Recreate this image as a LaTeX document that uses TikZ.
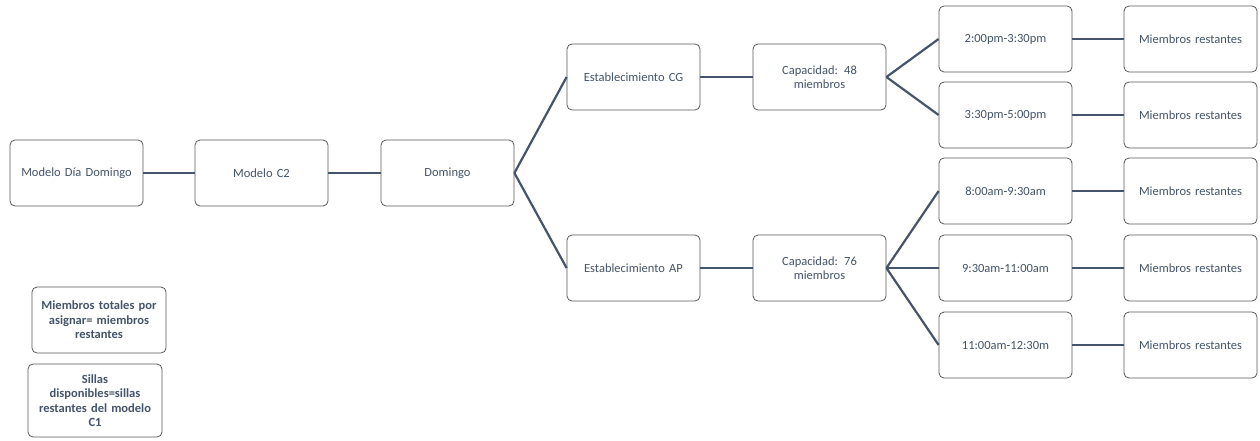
\documentclass[tikz,border=0pt]{standalone}
\usepackage{fontspec}
\setmainfont{Carlito}
\definecolor{slate}{HTML}{44546A}
\definecolor{edge}{HTML}{595959}
\begin{document}
\begin{tikzpicture}[x=1pt,y=-1pt,
  box/.style={draw=edge,line width=0.8pt,rounded corners=5pt,fill=white,
    minimum width=133pt,minimum height=66pt,inner sep=2pt,align=center,
    text width=128pt,font=\fontsize{12.5}{13.5}\selectfont,text=slate},
  note/.style={box,font=\fontsize{12.5}{14.5}\selectfont\bfseries,minimum width=134pt,text width=130pt},
  link/.style={draw=slate,line width=2.2pt}]
\useasboundingbox (0,0) rectangle (1260,440);
% main chain
\node[box] (mdd) at (76.5,173) {Modelo Día Domingo};
\node[box] (mc2) at (261.5,173) {Modelo C2};
\node[box] (dom) at (447.5,173) {Domingo};
% establishments
\node[box] (ecg) at (633.5,77) {Establecimiento CG};
\node[box] (eap) at (633.5,268) {Establecimiento AP};
\node[box] (c48) at (819.5,77) {Capacidad: 48\\miembros};
\node[box] (c76) at (819.5,268) {Capacidad: 76\\miembros};
% time slots
\node[box] (t1) at (1005.5,39) {2:00pm-3:30pm};
\node[box] (t2) at (1005.5,115) {3:30pm-5:00pm};
\node[box] (t3) at (1005.5,191) {8:00am-9:30am};
\node[box] (t4) at (1005.5,268) {9:30am-11:00am};
\node[box] (t5) at (1005.5,345) {11:00am-12:30m};
% remaining members
\node[box] (r1) at (1190.5,39) {Miembros restantes};
\node[box] (r2) at (1190.5,115) {Miembros restantes};
\node[box] (r3) at (1190.5,191) {Miembros restantes};
\node[box] (r4) at (1190.5,268) {Miembros restantes};
\node[box] (r5) at (1190.5,345) {Miembros restantes};
% notes
\node[note] (n1) at (99,320) {Miembros totales por\\asignar= miembros\\restantes};
\node[note,minimum height=73pt] (n2) at (95,400.5) {Sillas\\disponibles=sillas\\restantes del modelo\\C1};
% connectors
\draw[link] (mdd.east) -- (mc2.west);
\draw[link] (mc2.east) -- (dom.west);
\draw[link] (dom.east) -- (ecg.west);
\draw[link] (dom.east) -- (eap.west);
\draw[link] (ecg.east) -- (c48.west);
\draw[link] (eap.east) -- (c76.west);
\draw[link] (c48.east) -- (t1.west);
\draw[link] (c48.east) -- (t2.west);
\draw[link] (c76.east) -- (t3.west);
\draw[link] (c76.east) -- (t4.west);
\draw[link] (c76.east) -- (t5.west);
\foreach \i in {1,...,5} \draw[link] (t\i.east) -- (r\i.west);
\end{tikzpicture}
\end{document}
